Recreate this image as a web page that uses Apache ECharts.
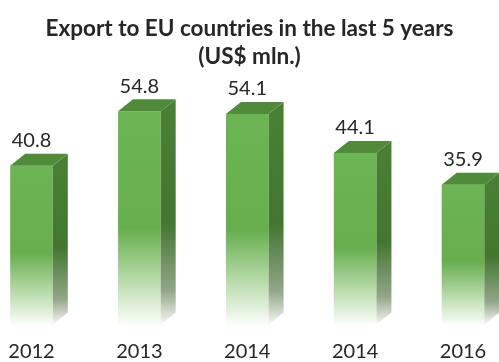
<!DOCTYPE html>
<html>
<head>
<meta charset="utf-8">
<script src="https://cdn.jsdelivr.net/npm/echarts@6/dist/echarts.min.js"></script>
<style>
  html, body { margin: 0; padding: 0; background: #ffffff; }
  #chart { width: 499px; height: 362px; }
</style>
</head>
<body>
<div id="chart"></div>
<script>
// Export volumes to the EU, million US$
const years = ['2012', '2013', '2014', '2014', '2016'];
const exportValues = [40.8, 54.8, 54.1, 44.1, 35.9];

const chart = echarts.init(document.getElementById('chart'));

// Depth offsets of the pseudo-3D column (pixels)
const DEPTH_X = 15;
const DEPTH_Y = 12;

function vertical(stops) {
  return new echarts.graphic.LinearGradient(0, 0, 0, 1, stops);
}

function renderColumn(params, api) {
  const idx = api.value(0);
  const val = api.value(1);
  const top = api.coord([idx, val]);
  const base = api.coord([idx, 0]);
  const band = api.size([1, 0])[0];
  const w = band * 0.395;
  const x0 = top[0] - w / 2;
  const x1 = top[0] + w / 2;
  const yTop = top[1];
  const yBot = base[1];
  const h = yBot - yTop;

  const front = {
    type: 'rect',
    shape: { x: x0, y: yTop, width: w, height: h },
    style: {
      fill: vertical([
        { offset: 0, color: '#6cb554' },
        { offset: 0.55, color: '#67ae4e' },
        { offset: 0.78, color: '#b3d8a4' },
        { offset: 1, color: '#fbfdfa' }
      ])
    }
  };
  const side = {
    type: 'polygon',
    shape: {
      points: [
        [x1, yTop], [x1 + DEPTH_X, yTop - DEPTH_Y],
        [x1 + DEPTH_X, yBot - DEPTH_Y], [x1, yBot]
      ]
    },
    style: {
      fill: vertical([
        { offset: 0, color: '#4a8036' },
        { offset: 0.55, color: '#447631' },
        { offset: 0.85, color: '#93a689' },
        { offset: 1, color: '#f7f8f6' }
      ])
    }
  };
  const cap = {
    type: 'polygon',
    shape: {
      points: [
        [x0, yTop], [x0 + DEPTH_X, yTop - DEPTH_Y],
        [x1 + DEPTH_X, yTop - DEPTH_Y], [x1, yTop]
      ]
    },
    style: { fill: '#4f8b3a' }
  };
  const label = {
    type: 'text',
    style: {
      text: String(val),
      x: top[0],
      y: yTop - DEPTH_Y - 3,
      textAlign: 'center',
      textVerticalAlign: 'bottom',
      fill: '#262626',
      font: '20px Lato'
    }
  };
  return { type: 'group', children: [front, side, cap, label] };
}

chart.setOption({
  animation: false,
  backgroundColor: '#ffffff',
  title: {
    text: 'Export to EU countries in the last 5 years\n(US$ mln.)',
    left: 'center',
    top: 10,
    textStyle: {
      fontFamily: 'Lato',
      fontWeight: 'bold',
      fontSize: 22.5,
      lineHeight: 28,
      color: '#262626'
    }
  },
  grid: { left: 31.5, right: 36, top: 91, bottom: 35 },
  xAxis: {
    type: 'category',
    data: years,
    boundaryGap: false,
    axisLine: { show: false },
    axisTick: { show: false },
    splitLine: { show: false },
    axisLabel: {
      margin: 17.5,
      fontFamily: 'Lato',
      fontSize: 20,
      color: '#262626'
    }
  },
  yAxis: {
    type: 'value',
    min: 0,
    max: 60,
    show: false
  },
  series: [{
    type: 'custom',
    renderItem: renderColumn,
    encode: { x: 0, y: 1 },
    data: exportValues.map((v, i) => [i, v])
  }]
});
</script>
</body>
</html>
